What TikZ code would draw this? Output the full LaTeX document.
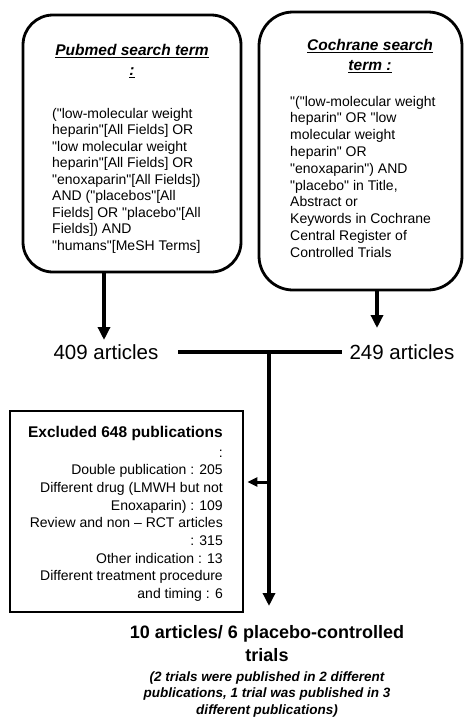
\documentclass[tikz,border=0pt]{standalone}
\usepackage{fontspec}
\setmainfont{Liberation Sans}[Ligatures=TeXOff]
\usetikzlibrary{arrows.meta}
\begin{document}
\begin{tikzpicture}[x=1pt,y=-1pt,
  sbox/.style={draw,line width=2.8pt,rounded corners=30pt,inner sep=0pt},
  ebox/.style={draw,line width=2.8pt,inner sep=0pt},
  conn/.style={line width=3.6pt},
  arr/.style={conn,-{Triangle[length=13pt,width=12pt]}},
  sarr/.style={line width=3pt,-{Triangle[length=10pt,width=9pt]}},
  body/.style={font=\fontsize{14}{16.5}\selectfont,inner sep=0pt},
  ttl/.style={font=\bfseries\itshape\fontsize{15.5}{20}\selectfont,inner sep=0pt,align=center},
  big/.style={font=\fontsize{20.5}{24}\selectfont,inner sep=0pt},
]
\useasboundingbox (0,0) rectangle (464,718);
% boxes
\node[sbox,minimum width=218pt,minimum height=257pt] (pub) at (132,143.5) {};
\node[sbox,rounded corners=34pt,minimum width=203pt,minimum height=278pt] (coch) at (360.5,151) {};
\node[ebox,minimum width=233pt,minimum height=201pt] (excl) at (126.5,511.5) {};
% pubmed text (base anchor = baseline of last line)
\node[ttl,anchor=base] (pubt) at (132,75.5) {\underline{Pubmed search term}\\\underline{:}};
\node[body,align=left,anchor=base west] (pubb) at (52,250) {("low-molecular weight\\heparin"[All Fields] OR\\"low molecular weight\\heparin"[All Fields] OR\\"enoxaparin"[All Fields])\\AND ("placebos"[All\\Fields] OR "placebo"[All\\Fields]) AND\\"humans"[MeSH Terms]};
% cochrane text
\node[ttl,anchor=base] (coct) at (370,70.5) {\underline{Cochrane search}\\\underline{term :}};
\node[body,align=left,anchor=base west,font=\fontsize{14}{16.8}\selectfont] (cocb) at (290,257.2) {"("low-molecular weight\\heparin" OR "low\\molecular weight\\heparin" OR\\"enoxaparin") AND\\"placebo" in Title,\\Abstract or\\Keywords in Cochrane\\Central Register of\\Controlled Trials};
% counts
\node[big,anchor=base] (n409) at (106,359.5) {409 articles};
\node[big,anchor=base] (n249) at (402,359.5) {249 articles};
% excluded
\node[font=\bfseries\fontsize{15.5}{18}\selectfont,inner sep=0pt,anchor=base east] (exclt) at (223,437.5) {Excluded 648 publications};
\node[body,align=right,anchor=base east,font=\fontsize{14}{17.7}\selectfont] (exclb) at (223,598.6) {:\\Double publication : 205\\Different drug (LMWH but not\\Enoxaparin) : 109\\Review and non – RCT articles\\: 315\\Other indication : 13\\Different treatment procedure\\and timing : 6};
% result
\node[font=\bfseries\fontsize{18}{23}\selectfont,align=center,inner sep=0pt,anchor=base] (res) at (267,661) {10 articles/ 6 placebo-controlled\\trials};
\node[font=\bfseries\itshape\fontsize{13.5}{16.5}\selectfont,align=center,inner sep=0pt,anchor=base] (resn) at (267,714) {(2 trials were published in 2 different\\publications, 1 trial was published in 3\\different publications)};
% connector points
\coordinate (pa) at (104,340);
\coordinate (ca) at (377,328);
\coordinate (hl) at (178,352);
\coordinate (hr) at (342,352);
\coordinate (j) at (269,352);
\coordinate (lj) at (269,482);
\coordinate (rt) at (269,606);
% connectors
\draw[arr] (pub.south -| pa) -- (pa);
\draw[arr] (coch.south -| ca) -- (ca);
\draw[conn] (hl) -- (hr);
\draw[arr] (j) -- (rt);
\draw[sarr,shorten >=3pt] (lj) -- (excl.east |- lj);
\end{tikzpicture}
\end{document}
